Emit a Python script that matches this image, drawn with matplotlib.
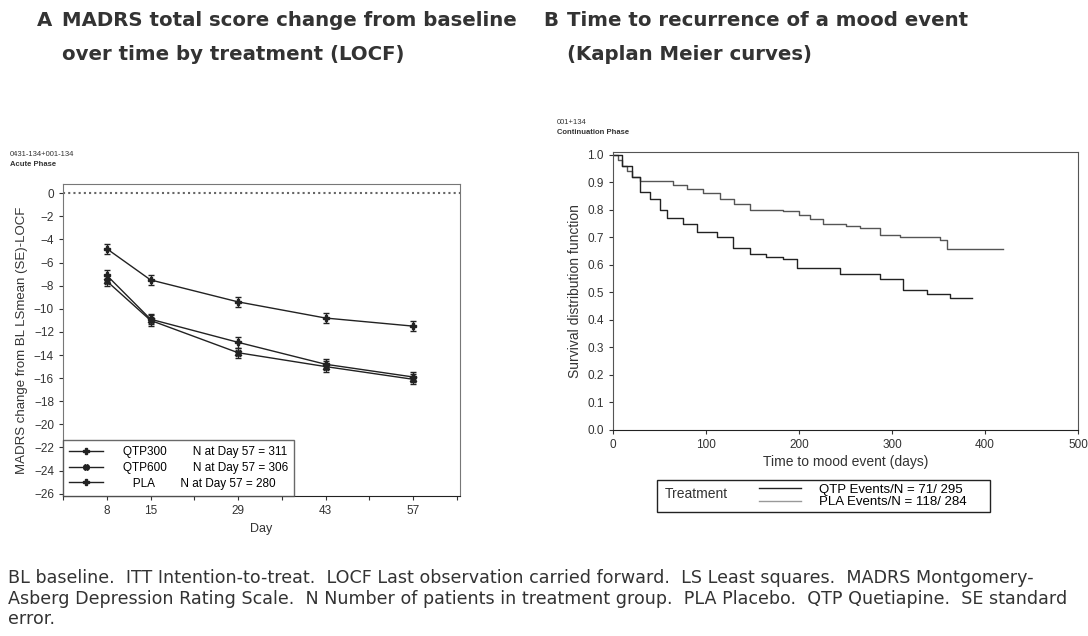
import matplotlib.pyplot as plt
from matplotlib.lines import Line2D
from matplotlib.patches import Rectangle

plt.rcParams['font.family'] = ['Liberation Sans', 'DejaVu Sans']

# panel A: LS mean change from baseline (LOCF)
days = [8, 15, 29, 43, 57]
qtp300 = [-7.1, -10.9, -12.9, -14.8, -15.9]
qtp600 = [-7.6, -11.0, -13.8, -15.0, -16.1]
pla = [-4.8, -7.5, -9.4, -10.8, -11.5]
se_a = [0.45, 0.45, 0.45, 0.45, 0.45]
groups_a = ['QTP300', 'QTP600', 'PLA']
n_day57 = [311, 306, 280]

# panel B: Kaplan-Meier survival
qtp_t = [0, 5, 10, 15, 20, 29, 50, 65, 80, 97, 115, 130, 147, 183, 200, 212,
         226, 250, 266, 287, 309, 352, 359, 419]
qtp_s = [1.0, 0.98, 0.96, 0.94, 0.92, 0.906, 0.905, 0.89, 0.875, 0.86, 0.84,
         0.82, 0.80, 0.795, 0.78, 0.765, 0.747, 0.74, 0.733, 0.71, 0.70, 0.69,
         0.657, 0.657]
pla_t = [0, 10, 20, 29, 40, 50, 58, 75, 90, 112, 129, 147, 165, 183, 198, 240,
         244, 287, 312, 338, 362, 386]
pla_s = [1.0, 0.96, 0.92, 0.866, 0.84, 0.80, 0.77, 0.75, 0.72, 0.70, 0.66,
         0.64, 0.63, 0.62, 0.59, 0.59, 0.565, 0.55, 0.51, 0.495, 0.48, 0.48]
events = ['QTP Events/N = 71/ 295', 'PLA Events/N = 118/ 284']

fig = plt.figure(figsize=(10.88, 6.36), dpi=100)

# titles
tkw = dict(fontsize=14.2, fontweight='bold', color='#333', family='DejaVu Sans', va='center')
fig.text(37/1088, 1-20/636, 'A', **tkw)
fig.text(62/1088, 1-20/636, 'MADRS total score change from baseline', **tkw)
fig.text(62/1088, 1-55/636, 'over time by treatment (LOCF)', **tkw)
fig.text(543/1088, 1-20/636, 'B', **tkw)
fig.text(567/1088, 1-20/636, 'Time to recurrence of a mood event', **tkw)
fig.text(567/1088, 1-55/636, '(Kaplan Meier curves)', **tkw)

# panel A
ax = fig.add_axes([63/1088, 1-496/636, 397/1088, 312/636])
ax.axhline(0, color='#666', lw=1.5, ls=(0, (1, 1.5)))
mk = ['P', 'X', 'P']
for vals, m in zip([qtp300, qtp600, pla], mk):
    ax.errorbar(days, vals, yerr=se_a, color='#222', lw=1, marker=m, ms=5,
                capsize=2, elinewidth=1)
ax.set_xlim(1, 64.5)
ax.set_ylim(-26.2, 0.8)
ax.set_xticks(range(1, 65, 7))
ax.set_xticklabels(['' if d not in days else str(d) for d in range(1, 65, 7)])
ax.set_yticks(range(0, -27, -2))
ax.tick_params(labelsize=8.5, colors='#333', length=3)
ax.set_xlabel('Day', fontsize=9, color='#333')
ax.set_ylabel('MADRS change from BL LSmean (SE)-LOCF', fontsize=9.5, color='#333')
for s in ax.spines.values():
    s.set_color('#777')
ax.spines['bottom'].set_color('#222')
handles = [Line2D([], [], color='#222', lw=1, marker=m, ms=4) for m in mk]
labels = [f'{g:>10}        N at Day 57 = {n}' for g, n in zip(groups_a, n_day57)]
leg = ax.legend(handles, labels, loc='lower left', fontsize=8.5, frameon=True,
                fancybox=False, borderaxespad=0, handlelength=2.8,
                labelspacing=0.3, borderpad=0.55, handletextpad=0.6)
leg.get_frame().set_edgecolor('#444')
fig.text(10/1088, 1-156/636, '0431-134+001-134', fontsize=5.5, color='#333')
fig.text(10/1088, 1-166/636, 'Acute Phase', fontsize=5.5, color='#333', fontweight='bold')

# panel B
bx = fig.add_axes([613/1088, 1-430/636, 465/1088, 278/636])
bx.plot(qtp_t, qtp_s, drawstyle='steps-post', color='#555', lw=1)
bx.plot(pla_t, pla_s, drawstyle='steps-post', color='#222', lw=1)
bx.set_xlim(0, 500)
bx.set_ylim(0, 1.01)
bx.set_xticks(range(0, 501, 100))
bx.set_yticks([i/10 for i in range(11)])
bx.set_yticklabels([f'{i/10:.1f}' for i in range(11)])
bx.tick_params(labelsize=8.5, colors='#333', length=3)
bx.set_xlabel('Time to mood event (days)', fontsize=10, color='#333', labelpad=3)
bx.set_ylabel('Survival distribution function', fontsize=10, color='#333')
for s in bx.spines.values():
    s.set_color('#555')
bx.spines['bottom'].set_color('#222')
fig.text(557/1088, 1-124/636, '001+134', fontsize=5.5, color='#333')
fig.text(557/1088, 1-134/636, 'Continuation Phase', fontsize=5.5, color='#333', fontweight='bold')

fig.patches.append(Rectangle((657/1088, 1-512/636), 333/1088, 32/636,
                             transform=fig.transFigure, fill=False,
                             edgecolor='#222', lw=1))
fig.text(665/1088, 1-494/636, 'Treatment', fontsize=10, color='#333', va='center')
bh = [Line2D([], [], color='#222', lw=1), Line2D([], [], color='#999', lw=1)]
fig.legend(bh, events, loc='center left', bbox_to_anchor=(752/1088, 1-496/636),
           fontsize=9.5, frameon=False, handlelength=3.2, labelspacing=0.0,
           borderpad=0, handletextpad=1.4)

# footnote
foot = ('BL baseline.  ITT Intention-to-treat.  LOCF Last observation carried forward.  '
        'LS Least squares.  MADRS Montgomery-\n'
        'Asberg Depression Rating Scale.  N Number of patients in treatment group.  '
        'PLA Placebo.  QTP Quetiapine.  SE standard\nerror.')
fig.text(8/1088, 1-569/636, foot, fontsize=12.6, color='#333', va='top',
         linespacing=1.18, family='DejaVu Sans')

fig.savefig('out.png', dpi=100)
